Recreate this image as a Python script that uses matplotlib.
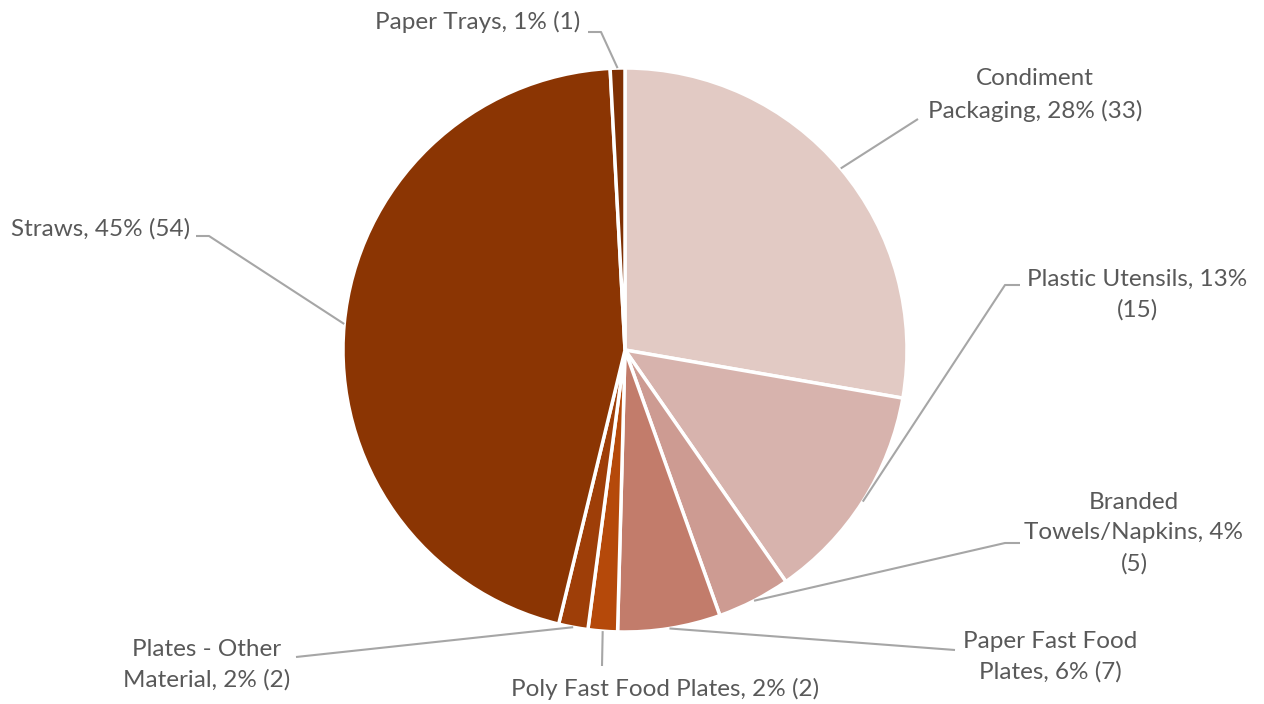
import matplotlib
matplotlib.use("Agg")
import matplotlib.pyplot as plt
import numpy as np

categories = ["Condiment Packaging", "Plastic Utensils", "Branded Towels/Napkins",
              "Paper Fast Food Plates", "Poly Fast Food Plates", "Plates - Other Material",
              "Straws", "Paper Trays"]
values = [33, 15, 5, 7, 2, 2, 54, 1]
label_texts = ["Condiment\nPackaging, 28% (33)", "Plastic Utensils, 13%\n(15)",
               "Branded\nTowels/Napkins, 4%\n(5)", "Paper Fast Food\nPlates, 6% (7)",
               "Poly Fast Food Plates, 2% (2)", "Plates - Other\nMaterial, 2% (2)",
               "Straws, 45% (54)", "Paper Trays, 1% (1)"]
colors = ["#E2CAC4", "#D7B3AD", "#CD9B92", "#C27C6B", "#B5490A", "#9E3E08", "#8B3503", "#7F3003"]

W, H = 1264, 704
CX, CY, R = 625, 350, 282

def px(x, y):
    return (x - CX) / R, (CY - y) / R

fig = plt.figure(figsize=(W / 100, H / 100), dpi=100)
ax = fig.add_axes([0, 0, 1, 1])

wedges, _ = ax.pie(values, colors=colors, startangle=90, counterclock=False, radius=1,
                   wedgeprops=dict(edgecolor="white", linewidth=2.5))
ax.set_xlim(-CX / R, (W - CX) / R)
ax.set_ylim(-(H - CY) / R, CY / R)
ax.set_aspect("equal")
ax.axis("off")

# label layout: text center (px), leader path points (px) ending at wedge
layout = [
    dict(pos=(1035, 95), path=[(918, 119)]),
    dict(pos=(1137, 295), path=[(1020, 285), (1005, 285)]),
    dict(pos=(1134, 533), path=[(1020, 543), (1005, 543)]),
    dict(pos=(1050, 657), path=[(955, 650)]),
    dict(pos=(665, 689), path=[(602, 666)]),
    dict(pos=(207, 665), path=[(296, 657)]),
    dict(pos=(101, 229), path=[(196, 236), (209, 236)]),
    dict(pos=(478, 22), path=[(588, 32), (601, 32)]),
]

total = sum(values)
cum = 0
for v, txt, lay in zip(values, label_texts, layout):
    mid = cum + v / 2
    cum += v
    ang = np.deg2rad(90 - 360 * mid / total)
    ex, ey = np.cos(ang), np.sin(ang)
    pts = [px(*p) for p in lay["path"]] + [(ex, ey)]
    xs, ys = zip(*pts)
    ax.plot(xs, ys, color="#A6A6A6", lw=1.5, solid_capstyle="butt", zorder=1)
    tx, ty = px(*lay["pos"])
    ax.text(tx, ty, txt, ha="center", va="center", fontsize=17.5, color="#595959",
            family=["Lato", "DejaVu Sans"], linespacing=1.55)

fig.savefig("out.png", dpi=100)
